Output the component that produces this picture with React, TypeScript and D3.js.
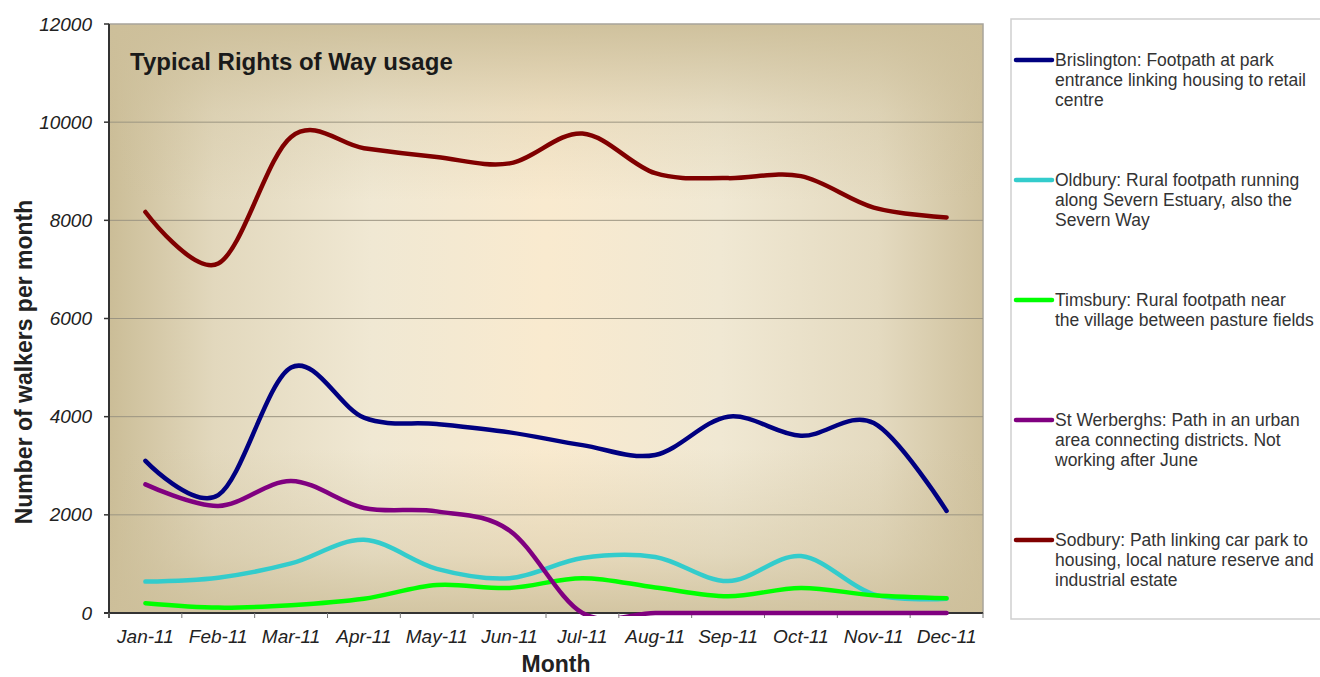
import * as d3 from "d3";

// months on the x axis
const months = ["Jan-11", "Feb-11", "Mar-11", "Apr-11", "May-11", "Jun-11", "Jul-11", "Aug-11", "Sep-11", "Oct-11", "Nov-11", "Dec-11"];

// walkers per month
const brislington = [3100, 2400, 5000, 3980, 3850, 3680, 3420, 3220, 4000, 3610, 3870, 2080];
const oldbury = [640, 720, 1010, 1490, 900, 710, 1120, 1140, 650, 1160, 380, 290];
const timsbury = [200, 110, 160, 290, 570, 510, 710, 520, 340, 510, 360, 300];
const stWerberghs = [2620, 2180, 2690, 2140, 2070, 1680, 0, 0, 0, 0, 0, 0];
const sodbury = [8170, 7120, 9700, 9470, 9290, 9160, 9770, 8960, 8860, 8900, 8260, 8060];

const yTicks = [0, 2000, 4000, 6000, 8000, 10000, 12000];

const seriesNames = [
  ["Brislington: Footpath at park", "entrance linking housing to retail", "centre"],
  ["Oldbury: Rural footpath running", "along Severn Estuary, also the", "Severn Way"],
  ["Timsbury: Rural footpath near", "the village between pasture fields"],
  ["St Werberghs: Path in an urban", "area connecting districts. Not", "working after June"],
  ["Sodbury: Path linking car park to", "housing, local nature reserve and", "industrial estate"],
];
const seriesValues = [brislington, oldbury, timsbury, stWerberghs, sodbury];
const seriesColors = ["#000080", "#33cccc", "#00ff00", "#800080", "#800000"];
// drawing order: back to front
const drawOrder = [1, 2, 3, 0, 4];

const W = 1320, H = 677;
const left = 109, right = 983, top = 24, bottom = 613;
const font = "'Liberation Sans', Arial, sans-serif";

export default function App() {
  const x = d3.scaleBand<string>().domain(months).range([left, right]).padding(0);
  const y = d3.scaleLinear().domain([0, 12000]).range([bottom, top]);
  const cx = (m: string) => (x(m) as number) + x.bandwidth() / 2;

  const line = d3
    .line<number>()
    .x((_, i) => cx(months[i]))
    .y((d) => y(d))
    .curve(d3.curveCardinal.tension(0));

  const boundaries = months.map((m) => x(m) as number).concat([right]);

  return (
    <svg width={W} height={H} style={{ position: "absolute", left: 0, top: 0 }}>
      <defs>
        <linearGradient id="hg" x1="0" x2="1" y1="0" y2="0">
          <stop offset="0" stopColor="#cbbd97" />
          <stop offset="0.12" stopColor="#e2d8bd" />
          <stop offset="0.3" stopColor="#f0e8d3" />
          <stop offset="0.5" stopColor="#f9eacf" />
          <stop offset="0.7" stopColor="#f0e8d3" />
          <stop offset="0.88" stopColor="#e4dac0" />
          <stop offset="1" stopColor="#cfc19d" />
        </linearGradient>
        <linearGradient id="vg" x1="0" x2="0" y1="0" y2="1">
          <stop offset="0" stopColor="#cdbf9a" stopOpacity="0.95" />
          <stop offset="0.15" stopColor="#cdbf9a" stopOpacity="0.3" />
          <stop offset="0.3" stopColor="#cdbf9a" stopOpacity="0" />
          <stop offset="0.72" stopColor="#cdbf9a" stopOpacity="0" />
          <stop offset="0.9" stopColor="#cdbf9a" stopOpacity="0.4" />
          <stop offset="1" stopColor="#cdbf9a" stopOpacity="0.85" />
        </linearGradient>
        <clipPath id="plot">
          <rect x={left} y={top} width={right - left} height={bottom - top + 3} />
        </clipPath>
      </defs>

      <rect x={0} y={0} width={W} height={H} fill="#fff" />

      {/* plot background */}
      <rect x={left} y={top} width={right - left} height={bottom - top} fill="url(#hg)" />
      <rect x={left} y={top} width={right - left} height={bottom - top} fill="url(#vg)" />
      <rect x={left} y={top} width={right - left} height={bottom - top} fill="none" stroke="#a8a49a" strokeWidth={1.5} />

      {/* gridlines */}
      {yTicks.slice(1, -1).map((t) => (
        <line key={t} x1={left} x2={right} y1={y(t)} y2={y(t)} stroke="#9c9582" strokeWidth={1} />
      ))}

      {/* title */}
      <text x={130} y={70} fontFamily={font} fontSize={24} fontWeight="bold" fill="#1a1a1a">
        Typical Rights of Way usage
      </text>

      {/* axes */}
      <line x1={left} x2={left} y1={top} y2={bottom + 5} stroke="#333" strokeWidth={2} />
      <line x1={left - 5} x2={right} y1={bottom} y2={bottom} stroke="#333" strokeWidth={2} />
      {yTicks.map((t) => (
        <g key={t}>
          <line x1={left - 5} x2={left} y1={y(t)} y2={y(t)} stroke="#333" strokeWidth={1.5} />
          <text
            x={92}
            y={y(t)}
            dy="0.35em"
            textAnchor="end"
            fontFamily={font}
            fontStyle="italic"
            fontSize={19}
            fill="#222"
          >
            {t}
          </text>
        </g>
      ))}
      {boundaries.map((b, i) => (
        <line key={i} x1={b} x2={b} y1={bottom} y2={bottom + 5} stroke="#777" strokeWidth={1} />
      ))}
      {months.map((m) => (
        <text
          key={m}
          x={cx(m)}
          y={643}
          textAnchor="middle"
          fontFamily={font}
          fontStyle="italic"
          fontSize={19}
          fill="#222"
        >
          {m}
        </text>
      ))}

      {/* series, drawn over the axis like the original */}
      <g clipPath="url(#plot)">
        {drawOrder.map((i) => (
          <path
            key={i}
            d={line(seriesValues[i]) || ""}
            fill="none"
            stroke={seriesColors[i]}
            strokeWidth={4.5}
            strokeLinejoin="round"
            strokeLinecap="round"
          />
        ))}
      </g>

      {/* axis titles */}
      <text x={556} y={672} textAnchor="middle" fontFamily={font} fontWeight="bold" fontSize={23} fill="#222">
        Month
      </text>
      <text
        transform={`translate(32, ${362}) rotate(-90)`}
        textAnchor="middle"
        fontFamily={font}
        fontWeight="bold"
        fontSize={23}
        fill="#222"
      >
        Number of walkers per month
      </text>

      {/* legend */}
      <rect x={1011} y={19} width={320} height={600} fill="#fff" stroke="#cfcfcf" strokeWidth={1.5} />
      {seriesNames.map((lines, i) => {
        const ly = 60 + i * 120;
        return (
          <g key={i}>
            <line x1={1016} x2={1052} y1={ly} y2={ly} stroke={seriesColors[i]} strokeWidth={4.5} strokeLinecap="round" />
            {lines.map((s, j) => (
              <text key={j} x={1055} y={ly + 6 + j * 20} fontFamily={font} fontSize={17.5} fill="#333">
                {s}
              </text>
            ))}
          </g>
        );
      })}
    </svg>
  );
}
